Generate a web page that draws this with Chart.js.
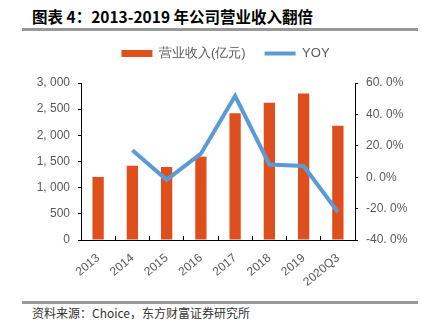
<!DOCTYPE html>
<html>
<head>
<meta charset="utf-8">
<script src="https://cdn.jsdelivr.net/npm/chart.js@4"></script>
<style>
    body { margin: 0; width: 423px; height: 325px; background: #fff; position: relative; overflow: hidden; }
    #title { position: absolute; left: 32px; top: 5px; font: bold 15.5px "Noto Sans CJK SC", sans-serif; color: #000; white-space: nowrap; }
    #rule1, #rule2 { position: absolute; left: 22px; width: 396px; height: 3px; background: #999999; z-index: 5; }
    #source { position: absolute; left: 32px; top: 304px; font: 12px "Noto Sans CJK SC", sans-serif; color: #333; white-space: nowrap; }
    #wrap { position: absolute; left: 0; top: 28px; width: 423px; height: 272px; }
</style>
</head>
<body>
<div id="title">图表 4：2013-2019 年公司营业收入翻倍</div>
<div id="rule1" style="top:28px"></div>
<div id="wrap"><canvas id="chart"></canvas></div>
<div id="rule2" style="top:301px"></div>
<div id="source">资料来源：Choice，东方财富证券研究所</div>
<script>
var years = ['2013', '2014', '2015', '2016', '2017', '2018', '2019', '2020Q3'];
var revenue = [1205, 1418, 1394, 1593, 2422, 2623, 2798, 2185];
var yoy = [null, 17.1, -1.7, 15.0, 51.7, 8.1, 7.1, -22.2];
var revenueLabel = '营业收入(亿元)';
var yoyLabel = 'YOY';

var tickFont = { family: 'Liberation Sans', size: 12 };
var grey = '#595959';

// more room between legend and plot, and legend a bit right of centre
var legendTweak = {
    id: 'legendTweak',
    beforeInit: function(chart) {
        var lg = chart.legend;
        var fit = lg.fit;
        var draw = lg.draw;
        lg.fit = function() {
            fit.call(this);
            this.height += 13;
        };
        lg.draw = function() {
            this.left += 14;
            this.right += 14;
            draw.call(this);
            this.left -= 14;
            this.right -= 14;
        };
    }
};

var ctx = document.getElementById('chart');

var chart = new Chart(ctx, {
    data: {
        labels: years,
        datasets: [{
            type: 'bar',
            label: revenueLabel,
            data: revenue,
            backgroundColor: '#DF4F1E',
            pointStyle: 'rect',
            barPercentage: 0.33,
            categoryPercentage: 1,
            yAxisID: 'y',
            order: 1
        }, {
            type: 'line',
            label: yoyLabel,
            data: yoy,
            borderColor: '#5B9BD5',
            backgroundColor: '#5B9BD5',
            borderWidth: 4,
            pointRadius: 0,
            pointStyle: 'line',
            tension: 0,
            yAxisID: 'y1',
            order: 0
        }]
    },
    options: {
        responsive: true,
        maintainAspectRatio: false,
        animation: false,
        layout: { padding: 0 },
        plugins: {
            tooltip: { enabled: false },
            legend: {
                position: 'top',
                labels: {
                    usePointStyle: true,
                    pointStyleWidth: 31,
                    boxHeight: 7,
                    padding: 19,
                    color: grey,
                    font: { family: 'Liberation Sans', size: 13 },
                    sort: function(a, b) { return a.datasetIndex - b.datasetIndex; }
                }
            }
        },
        scales: {
            x: {
                grid: { display: true, offset: true, drawOnChartArea: false, tickLength: -4, color: '#000' },
                border: { color: '#000' },
                ticks: { color: grey, font: tickFont, minRotation: 40, maxRotation: 40, padding: 15 },
                afterFit: function(s) { s.height = 60; }
            },
            y: {
                position: 'left',
                min: 0,
                max: 3000,
                grid: { drawOnChartArea: false, tickLength: 3, color: '#000' },
                border: { color: '#000' },
                ticks: {
                    stepSize: 500,
                    color: grey,
                    font: tickFont,
                    padding: 8,
                    callback: function(v) { return v.toLocaleString('en-US').replace(',', ', '); }
                },
                afterFit: function(s) { s.width = 81; }
            },
            y1: {
                position: 'right',
                min: -40,
                max: 60,
                grid: { drawOnChartArea: false, tickLength: 3, color: '#000' },
                border: { color: '#000' },
                ticks: {
                    stepSize: 20,
                    color: grey,
                    font: tickFont,
                    padding: 8,
                    callback: function(v) { return v.toFixed(1).replace('.', '. ') + '%'; }
                },
                afterFit: function(s) { s.width = 68; }
            }
        }
    },
    plugins: [legendTweak]
});
</script>
</body>
</html>
